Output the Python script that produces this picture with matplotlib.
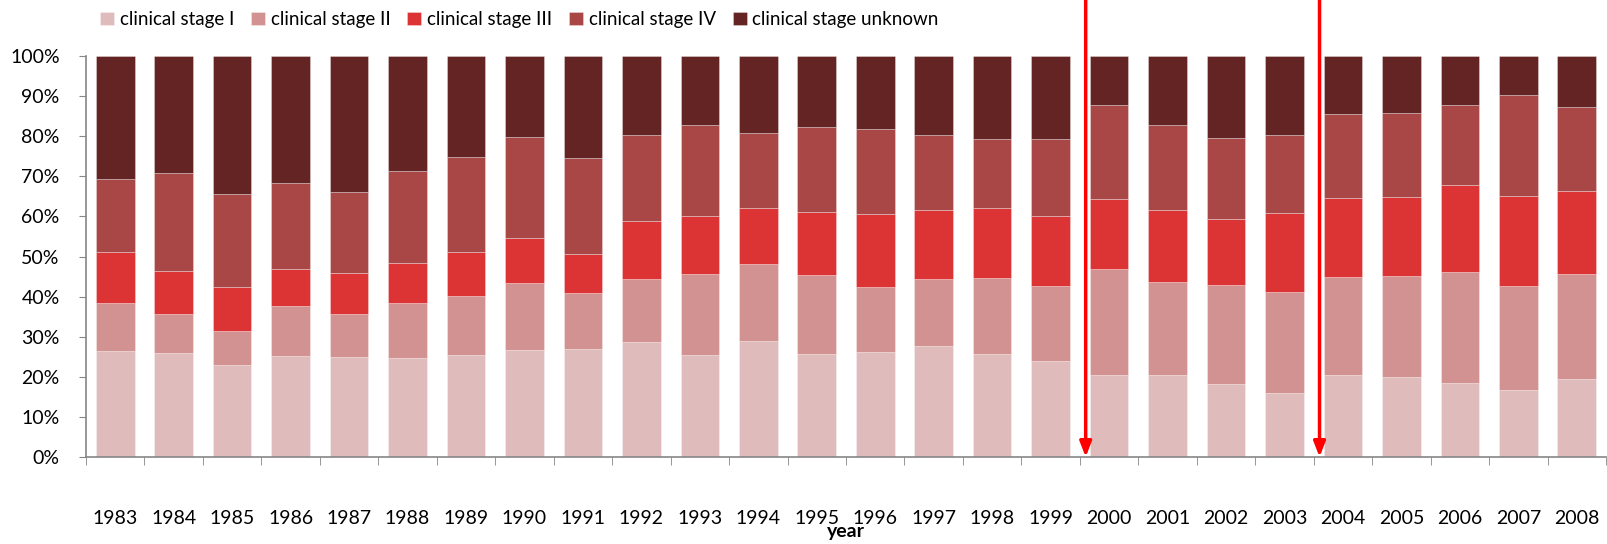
import matplotlib
matplotlib.use("Agg")
import matplotlib.pyplot as plt
import numpy as np

plt.rcParams['font.family'] = ['Lato', 'DejaVu Sans']

# years on the x axis
years = [str(y) for y in range(1983, 2009)]

# cumulative tops (%), per stage
top_I = [26.4, 26.0, 22.9, 25.1, 24.9, 24.6, 25.4, 26.8, 26.9, 28.6, 25.5, 28.9, 25.7,
         26.1, 27.6, 25.7, 23.9, 20.4, 20.4, 18.2, 16.0, 20.4, 20.0, 18.5, 16.7, 19.5]
top_II = [38.5, 35.6, 31.4, 37.6, 35.6, 38.5, 40.1, 43.3, 40.8, 44.3, 45.6, 48.1, 45.3,
          42.3, 44.3, 44.7, 42.7, 46.9, 43.7, 42.9, 41.1, 44.9, 45.1, 46.2, 42.7, 45.6]
top_III = [51.2, 46.5, 42.4, 46.8, 46.0, 48.5, 51.2, 54.7, 50.7, 58.9, 60.0, 62.0, 61.2,
           60.5, 61.5, 62.0, 60.0, 64.4, 61.5, 59.3, 60.8, 64.5, 64.8, 67.9, 65.1, 66.3]
top_IV = [69.3, 70.7, 65.5, 68.4, 66.0, 71.3, 74.7, 79.8, 74.6, 80.2, 82.9, 80.9, 82.4,
          81.7, 80.4, 79.4, 79.2, 87.9, 82.7, 79.5, 80.4, 85.5, 85.7, 87.7, 90.2, 87.2]

stage_I = np.array(top_I)
stage_II = np.array(top_II) - np.array(top_I)
stage_III = np.array(top_III) - np.array(top_II)
stage_IV = np.array(top_IV) - np.array(top_III)
stage_unknown = 100 - np.array(top_IV)

labels = ['clinical stage I', 'clinical stage II', 'clinical stage III',
          'clinical stage IV', 'clinical stage unknown']
colors = ['#E0BBBB', '#D29292', '#DC3434', '#A94747', '#652424']

# arrows mark changes between 1999/2000 and 2003/2004
arrow_after = ['1999', '2003']

fig = plt.figure(figsize=(16.08, 5.44), dpi=100)
ax = fig.add_axes([86/1608, 87/544, 1520/1608, 401/544])

x = np.arange(len(years))
bottom = np.zeros(len(years))
for vals, lab, col in zip([stage_I, stage_II, stage_III, stage_IV, stage_unknown], labels, colors):
    ax.bar(x, vals / 100, 0.66, bottom=bottom / 100, color=col, label=lab,
           edgecolor=(1, 1, 1, 0.35), linewidth=0.6)
    bottom = bottom + vals

ax.set_xlim(-0.5, len(years) - 0.5)
ax.set_ylim(0, 1)
ax.set_yticks(np.arange(0, 1.01, 0.1))
ax.set_yticklabels([f'{int(round(v*100))}%' for v in np.arange(0, 1.01, 0.1)], fontsize=14)
ax.set_xticks(x)
ax.set_xticklabels(years, fontsize=14)
ax.set_xticks(np.arange(-0.5, len(years)), minor=True)
ax.tick_params(axis='x', which='major', length=0, pad=38)
ax.tick_params(axis='x', which='minor', length=6, color='#868686')
ax.tick_params(axis='y', length=5, color='#868686', pad=14)

for s in ['top', 'right']:
    ax.spines[s].set_visible(False)
for s in ['left', 'bottom']:
    ax.spines[s].set_color('#868686')
    ax.spines[s].set_linewidth(1.2)

ax.set_xlabel('year', fontsize=14, fontweight='bold', labelpad=-3)

for yr in arrow_after:
    xa = years.index(yr) + 0.6
    ax.annotate('', xy=(xa, 0.0), xytext=(xa, 1.2), annotation_clip=False,
                arrowprops=dict(arrowstyle='-|>,head_length=0.9,head_width=0.35',
                                color='#FF0000', lw=2.5, shrinkA=0, shrinkB=0))

fig.legend(loc='center', bbox_to_anchor=(0.323, 1 - 19.5/544), ncol=5, frameon=False,
           fontsize=13.5, handlelength=0.75, handleheight=0.75, handletextpad=0.3,
           columnspacing=0.9)

fig.savefig('out.png', dpi=100)
